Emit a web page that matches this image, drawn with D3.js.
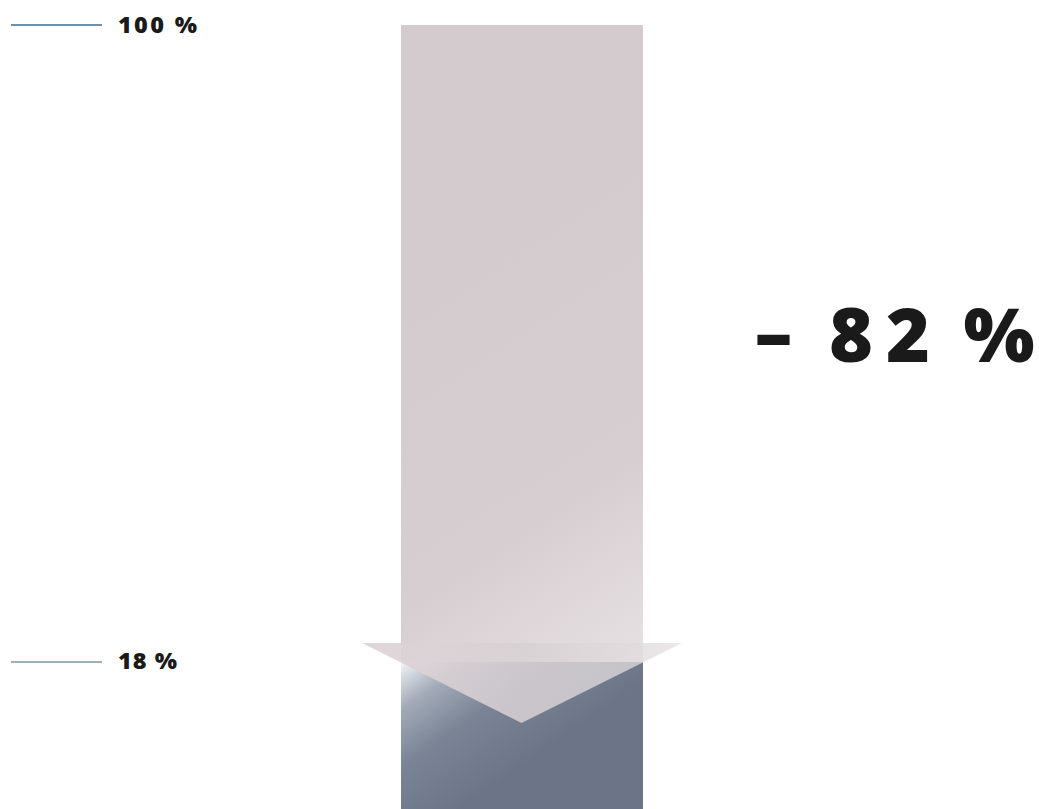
<!DOCTYPE html>
<html><head><meta charset="utf-8">
<script src="https://cdn.jsdelivr.net/npm/d3@7"></script>
<style>html,body{margin:0;padding:0;background:#fff;}svg{display:block;}</style>
</head><body>
<script>
const levels = [100, 18];
const levelLabels = ["100 %", "18 %"];
const changeParts = ["–", "82", "%"];

const W = 1039, H = 809;
const svg = d3.select("body").append("svg").attr("width", W).attr("height", H);
const y = d3.scaleLinear().domain([0, 100]).range([801.8, 25]);
const barX0 = 401, barX1 = 643;

const defs = svg.append("defs");
const gLight = defs.append("linearGradient").attr("id","gLight")
  .attr("gradientUnits","userSpaceOnUse").attr("x1",401).attr("y1",300).attr("x2",643).attr("y2",662);
gLight.append("stop").attr("offset",0).attr("stop-color","#d4cbce");
gLight.append("stop").attr("offset",0.6).attr("stop-color","#d7ced1");
gLight.append("stop").attr("offset",1).attr("stop-color","#e7e1e3");

const gDark = defs.append("linearGradient").attr("id","gDark")
  .attr("gradientUnits","userSpaceOnUse").attr("x1",401).attr("y1",y(levels[1])).attr("x2",490).attr("y2",790);
gDark.append("stop").attr("offset",0).attr("stop-color","#f2f4f7");
gDark.append("stop").attr("offset",0.25).attr("stop-color","#a3abb8");
gDark.append("stop").attr("offset",0.55).attr("stop-color","#7a8495");
gDark.append("stop").attr("offset",1).attr("stop-color","#6b7587");

const gTri = defs.append("linearGradient").attr("id","gTri")
  .attr("gradientUnits","userSpaceOnUse").attr("x1",362).attr("y1",643).attr("x2",682).attr("y2",700);
gTri.append("stop").attr("offset",0).attr("stop-color","#dcd3d6").attr("stop-opacity",0.92);
gTri.append("stop").attr("offset",0.5).attr("stop-color","#d8d1d4").attr("stop-opacity",0.85);
gTri.append("stop").attr("offset",1).attr("stop-color","#e4dfe1").attr("stop-opacity",0.72);

svg.append("rect").attr("x",barX0).attr("y",y(levels[0]))
  .attr("width",barX1-barX0).attr("height",y(levels[1])-y(levels[0]))
  .attr("fill","url(#gLight)");
svg.append("rect").attr("x",barX0).attr("y",y(levels[1]))
  .attr("width",barX1-barX0).attr("height",H-y(levels[1]))
  .attr("fill","url(#gDark)");
const ah = y(levels[1]) - 19;
svg.append("path")
  .attr("d", d3.line()([[362,ah],[682,ah],[521.5,ah+80]]) + "Z")
  .attr("fill","url(#gTri)");

const lineColors = ["#3f6b8a", "#7d95a5"];
const labelWidths = [79, 59];
levels.forEach((v,i)=>{
  svg.append("line").attr("x1",11).attr("x2",102).attr("y1",y(v)).attr("y2",y(v))
    .attr("stroke",lineColors[i]).attr("stroke-width",1.3);
  svg.append("text").attr("x",118).attr("y",y(v)+7.5)
    .attr("font-family","Open Sans").attr("font-weight",800).attr("font-size",23.5)
    .attr("fill","#1a1a1a").attr("textLength",labelWidths[i]).attr("lengthAdjust","spacing")
    .text(levelLabels[i]);
});

const big = svg.append("text").attr("y",362)
  .attr("font-family","Open Sans").attr("font-weight",800).attr("font-size",75)
  .attr("fill","#1a1a1a");
big.append("tspan").attr("x",753).attr("font-family","DejaVu Sans").attr("font-weight","bold")
  .attr("font-size",82).text(changeParts[0] + " ");
big.append("tspan").attr("x",829).attr("letter-spacing",13).text(changeParts[1]);
big.append("tspan").attr("x",944).text(" " + changeParts[2]);
</script>
</body></html>
